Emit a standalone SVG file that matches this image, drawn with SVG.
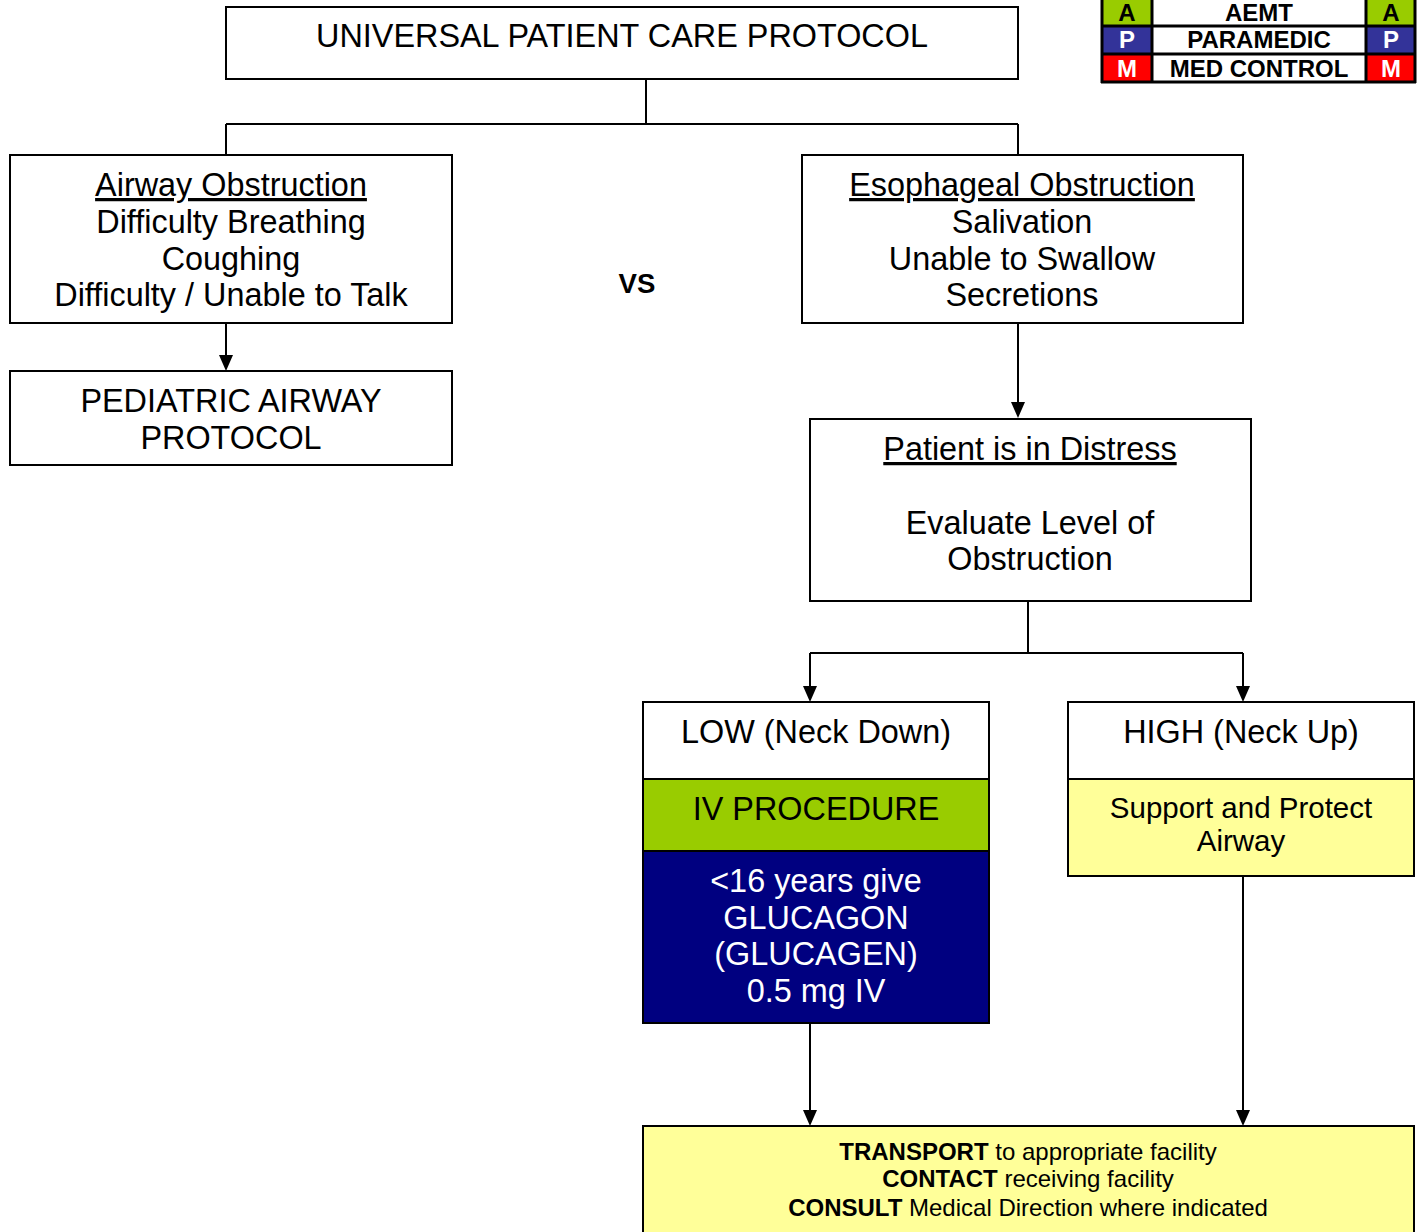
<svg xmlns="http://www.w3.org/2000/svg" width="1421" height="1232" viewBox="0 0 1421 1232">
<defs>
<style>
text{font-family:"Liberation Sans",Arial,sans-serif;text-anchor:middle;fill:#000}
.n{font-size:32.4px}
.m{font-size:29.5px}
.s{font-size:24px}
.b{font-weight:bold}
.w{fill:#fff}
.box{stroke:#000;stroke-width:2;fill:#fff}
.con{stroke:#000;stroke-width:2;fill:none}
.lg{font-size:24px;font-weight:bold}
</style>
</defs>
<rect width="1421" height="1232" fill="#fff"/>

<g id="connectors">
<path class="con" d="M646,79 V124 M226,124 H1018 M226,124 V155 M1018,124 V155"/>
<line class="con" x1="226" y1="323" x2="226" y2="355"/>
<path d="M219,355 L233,355 L226,371 Z"/>
<line class="con" x1="1018" y1="323" x2="1018" y2="402"/>
<path d="M1011,402 L1025,402 L1018,418 Z"/>
<path class="con" d="M1028,601 V653 M810,653 H1243 M810,653 V686 M1243,653 V686"/>
<path d="M803,686 L817,686 L810,702 Z"/>
<path d="M1236,686 L1250,686 L1243,702 Z"/>
<line class="con" x1="810" y1="1023" x2="810" y2="1110"/>
<path d="M803,1110 L817,1110 L810,1126 Z"/>
<line class="con" x1="1243" y1="876" x2="1243" y2="1110"/>
<path d="M1236,1110 L1250,1110 L1243,1126 Z"/>
</g>

<g id="universal">
<rect class="box" x="226" y="7" width="792" height="72"/>
<text class="n" x="622" y="47">UNIVERSAL PATIENT CARE PROTOCOL</text>
</g>

<g id="legend">
<rect x="1101" y="0" width="51" height="26" fill="#99CC00"/>
<rect x="1366" y="0" width="50" height="26" fill="#99CC00"/>
<rect x="1101" y="26" width="51" height="28" fill="#333399"/>
<rect x="1366" y="26" width="50" height="28" fill="#333399"/>
<rect x="1101" y="54" width="51" height="28" fill="#FF0000"/>
<rect x="1366" y="54" width="50" height="28" fill="#FF0000"/>
<path d="M1102,0 V83 M1152,0 V83 M1366,0 V83 M1415,0 V83 M1101,26 H1416 M1101,54 H1416 M1101,82 H1416" stroke="#000" stroke-width="3" fill="none"/>
<text class="lg" x="1127" y="20.5">A</text>
<text class="lg" x="1259" y="20.5">AEMT</text>
<text class="lg" x="1391" y="20.5">A</text>
<text class="lg w" x="1127" y="48">P</text>
<text class="lg" x="1259" y="48">PARAMEDIC</text>
<text class="lg w" x="1391" y="48">P</text>
<text class="lg w" x="1127" y="77">M</text>
<text class="lg" x="1259" y="77">MED CONTROL</text>
<text class="lg w" x="1391" y="77">M</text>
</g>

<g id="airway">
<rect class="box" x="10" y="155" width="442" height="168"/>
<text class="n" x="231" y="196" text-decoration="underline">Airway Obstruction</text>
<text class="n" x="231" y="233">Difficulty Breathing</text>
<text class="n" x="231" y="270">Coughing</text>
<text class="n" x="231" y="306">Difficulty / Unable to Talk</text>
</g>

<g id="vs">
<text class="b" x="637" y="293" style="font-size:27.6px">VS</text>
</g>

<g id="pediatric">
<rect class="box" x="10" y="371" width="442" height="94"/>
<text class="n" x="231" y="412">PEDIATRIC AIRWAY</text>
<text class="n" x="231" y="449">PROTOCOL</text>
</g>

<g id="esophageal">
<rect class="box" x="802" y="155" width="441" height="168"/>
<text class="n" x="1022" y="196" text-decoration="underline">Esophageal Obstruction</text>
<text class="n" x="1022" y="233">Salivation</text>
<text class="n" x="1022" y="270">Unable to Swallow</text>
<text class="n" x="1022" y="306">Secretions</text>
</g>

<g id="distress">
<rect class="box" x="810" y="419" width="441" height="182"/>
<text class="n" x="1030" y="460" text-decoration="underline">Patient is in Distress</text>
<text class="n" x="1030" y="534">Evaluate Level of</text>
<text class="n" x="1030" y="570">Obstruction</text>
</g>

<g id="low">
<rect class="box" x="643" y="702" width="346" height="77"/>
<rect x="643" y="779" width="346" height="72" fill="#99CC00" stroke="#000" stroke-width="2"/>
<rect x="643" y="851" width="346" height="172" fill="#000080" stroke="#000" stroke-width="2"/>
<text class="n" x="816" y="743">LOW (Neck Down)</text>
<text class="n" x="816" y="820">IV PROCEDURE</text>
<text class="n w" x="816" y="892">&lt;16 years give</text>
<text class="n w" x="816" y="929">GLUCAGON</text>
<text class="n w" x="816" y="965">(GLUCAGEN)</text>
<text class="n w" x="816" y="1002">0.5 mg IV</text>
</g>

<g id="high">
<rect class="box" x="1068" y="702" width="346" height="77"/>
<rect x="1068" y="779" width="346" height="97" fill="#FFFF99" stroke="#000" stroke-width="2"/>
<text class="n" x="1241" y="743">HIGH (Neck Up)</text>
<text class="m" x="1241" y="818">Support and Protect</text>
<text class="m" x="1241" y="851">Airway</text>
</g>

<g id="transport">
<rect x="643" y="1126" width="771" height="110" fill="#FFFF99" stroke="#000" stroke-width="2"/>
<text class="s" x="1028" y="1160"><tspan class="b">TRANSPORT</tspan> to appropriate facility</text>
<text class="s" x="1028" y="1187"><tspan class="b">CONTACT</tspan> receiving facility</text>
<text class="s" x="1028" y="1216"><tspan class="b">CONSULT</tspan> Medical Direction where indicated</text>
</g>
</svg>
